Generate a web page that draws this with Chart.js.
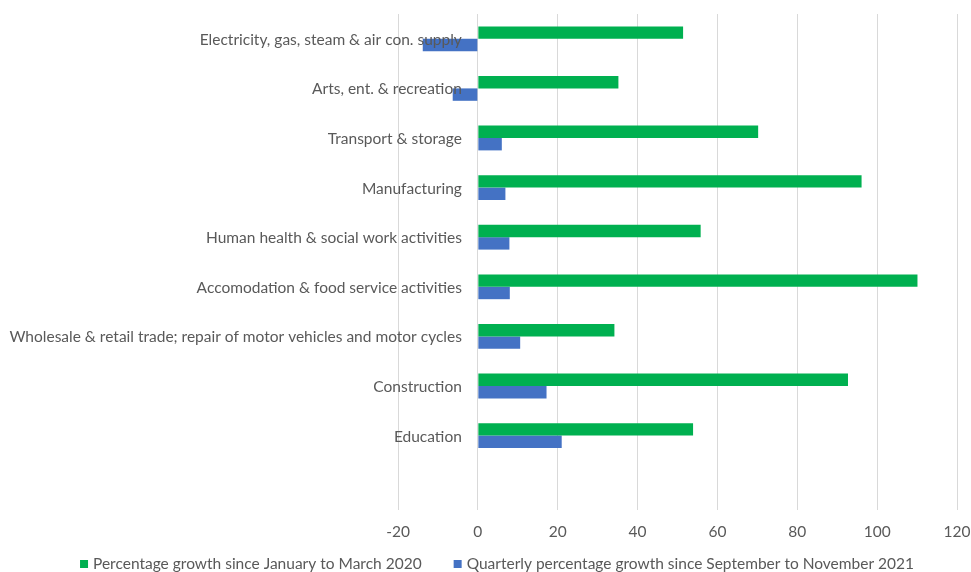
<!DOCTYPE html>
<html>
<head>
<meta charset="utf-8">
<title>Growth by sector</title>
<script src="https://cdn.jsdelivr.net/npm/chart.js@4"></script>
<style>
  html, body { margin: 0; padding: 0; background: #fff; }
  #growthChart { display: block; }
</style>
</head>
<body>
<canvas id="growthChart" width="971" height="572"></canvas>
<script>
// Sectors, top to bottom (last slot is left blank)
const sectors = [
  'Electricity, gas, steam & air con. supply',
  'Arts, ent. & recreation',
  'Transport & storage',
  'Manufacturing',
  'Human health & social work activities',
  'Accomodation & food service activities',
  'Wholesale & retail trade; repair of motor vehicles and motor cycles',
  'Construction',
  'Education',
  ''
];

const growthSinceQ1_2020 = [51.4, 35.2, 70.2, 96.1, 55.8, 110.1, 34.2, 92.7, 53.9, null];
const quarterlyGrowthSepNov2021 = [-13.8, -6.3, 6.0, 6.9, 7.9, 8.0, 10.6, 17.2, 21.0, null];

const seriesNames = [
  'Percentage growth since January to March 2020',
  'Quarterly percentage growth since September to November 2021'
];

const xTicks = [-20, 0, 20, 40, 60, 80, 100, 120];

const GREEN = '#00B050';
const BLUE = '#4472C4';
const TEXT = '#595959';
const FAMILY = 'Lato, "Open Sans", sans-serif';
const FONT = '15.5px ' + FAMILY;

// Category names sit just left of the zero line, like the original spreadsheet chart
const sectorLabels = {
  id: 'sectorLabels',
  afterDatasetsDraw(chart) {
    const { ctx, scales: { x, y } } = chart;
    const right = x.getPixelForValue(0) - 16;
    ctx.save();
    ctx.font = FONT;
    ctx.fillStyle = TEXT;
    ctx.textAlign = 'right';
    ctx.textBaseline = 'middle';
    sectors.forEach((name, i) => {
      if (name) ctx.fillText(name, right, y.getPixelForValue(i) + 1);
    });
    ctx.restore();
  }
};

// Simple legend row along the bottom
const bottomLegend = {
  id: 'bottomLegend',
  afterDraw(chart) {
    const { ctx } = chart;
    const box = 8, textGap = 5, itemGap = 32;
    const colors = chart.data.datasets.map(d => d.backgroundColor);
    ctx.save();
    ctx.font = FONT;
    const widths = seriesNames.map(t => ctx.measureText(t).width);
    const total = widths.reduce((s, w) => s + w + box + textGap, 0) + itemGap;
    let xPos = 497 - total / 2;
    const yPos = 564;
    ctx.textBaseline = 'middle';
    ctx.textAlign = 'left';
    seriesNames.forEach((t, i) => {
      ctx.fillStyle = colors[i];
      ctx.fillRect(xPos, yPos - box / 2, box, box);
      xPos += box + textGap;
      ctx.fillStyle = TEXT;
      ctx.fillText(t, xPos, yPos);
      xPos += widths[i] + itemGap;
    });
    ctx.restore();
  }
};

const ctx = document.getElementById('growthChart').getContext('2d');

new Chart(ctx, {
  type: 'bar',
  data: {
    labels: sectors,
    datasets: [
      {
        label: seriesNames[0],
        data: growthSinceQ1_2020,
        backgroundColor: GREEN,
        categoryPercentage: 0.5,
        barPercentage: 1
      },
      {
        label: seriesNames[1],
        data: quarterlyGrowthSepNov2021,
        backgroundColor: BLUE,
        categoryPercentage: 0.5,
        barPercentage: 1
      }
    ]
  },
  options: {
    indexAxis: 'y',
    responsive: false,
    animation: false,
    layout: {
      padding: { left: 398, right: 14, top: 14, bottom: 0 }
    },
    plugins: {
      legend: { display: false },
      tooltip: { enabled: false }
    },
    scales: {
      x: {
        min: xTicks[0],
        max: xTicks[xTicks.length - 1],
        afterBuildTicks(scale) {
          scale.ticks = xTicks.map(v => ({ value: v }));
        },
        afterFit(scale) {
          // fixed axis band; edge tick labels may hang past the plot area
          scale.height = 62;
          scale.paddingLeft = 0;
          scale.paddingRight = 0;
        },
        grid: {
          color: '#D9D9D9',
          lineWidth: 1,
          drawTicks: false
        },
        border: { display: false },
        ticks: {
          color: TEXT,
          font: { family: FAMILY, size: 15.5 },
          padding: 13
        }
      },
      y: {
        display: false
      }
    }
  },
  plugins: [sectorLabels, bottomLegend]
});
</script>
</body>
</html>
